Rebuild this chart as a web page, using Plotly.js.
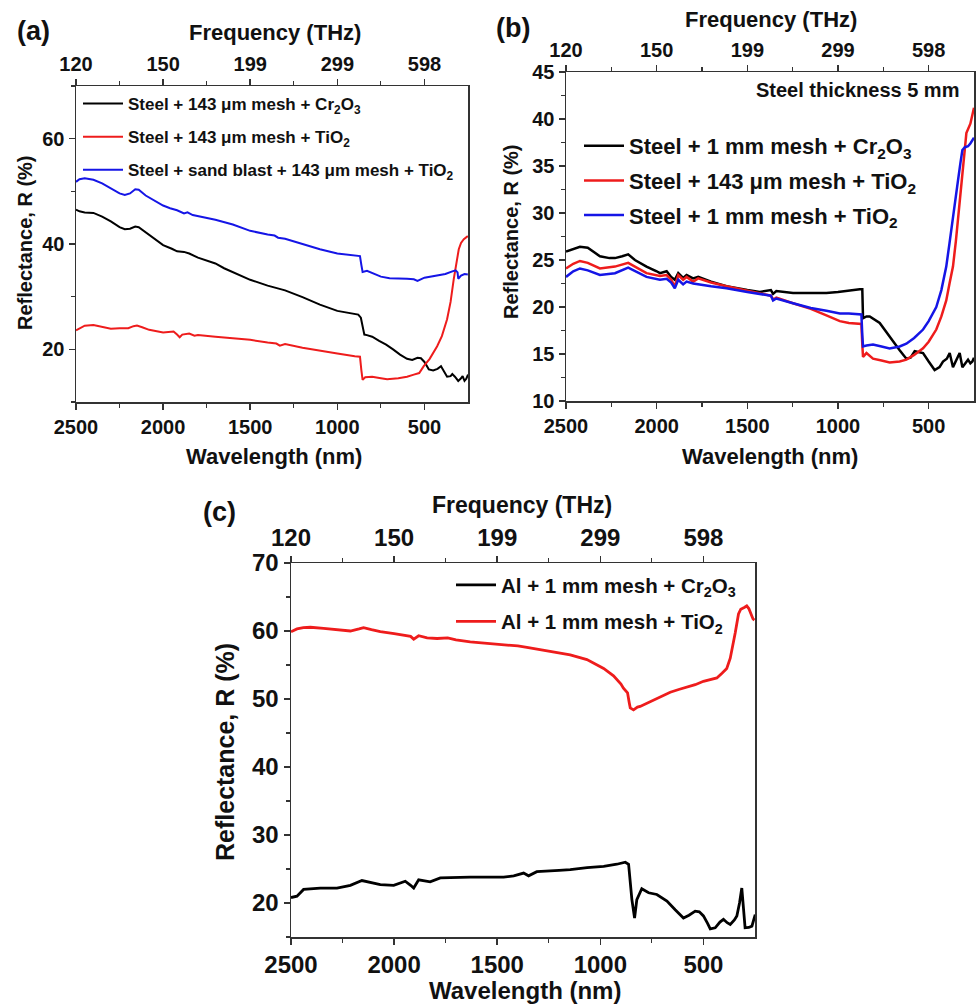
<!DOCTYPE html>
<html>
<head>
<meta charset="utf-8">
<script src="https://cdn.plot.ly/plotly-3.0.1.min.js"></script>
<style>html,body{margin:0;padding:0;background:#fff;}#chart{width:976px;height:1004px;}</style>
</head>
<body>
<div id="chart"></div>
<script>
// ---------- Data ----------
// Top-axis (frequency) tick labels, placed at wavelength positions
const wlTicks = [2500, 2000, 1500, 1000, 500];
const freqLabels = ['120', '150', '199', '299', '598'];

// Panel (a)
const aBlackWl = [2500,2480,2450,2400,2350,2300,2250,2220,2190,2160,2140,2100,2050,2000,1950,1920,1880,1850,1800,1750,1700,1650,1600,1500,1400,1350,1300,1200,1100,1000,930,880,865,855,845,830,800,760,720,680,640,600,570,540,520,500,475,450,425,405,385,370,350,340,325,306,290,281,270,260,250];
const aBlackR  = [46.5,46.2,46.0,45.9,45.2,44.3,43.2,42.8,42.9,43.3,43.2,42.2,41.0,39.8,39.1,38.6,38.5,38.2,37.4,36.9,36.3,35.4,34.7,33.2,32.1,31.7,31.2,29.9,28.5,27.3,26.9,26.6,26.0,24.5,22.8,22.7,22.4,21.6,20.9,20.0,19.0,18.2,18.0,18.4,18.3,17.6,16.2,16.0,16.3,16.8,15.6,14.8,14.9,15.3,14.8,14.0,14.5,14.9,14.0,14.4,15.2];
const aRedWl = [2500,2480,2450,2400,2350,2300,2250,2200,2170,2150,2120,2080,2000,1960,1940,1920,1905,1890,1870,1850,1820,1800,1700,1600,1500,1400,1350,1330,1300,1200,1100,1000,900,870,862,855,840,800,750,714,650,600,561,530,504,470,427,400,370,350,332,315,303,290,274,251];
const aRedR  = [23.6,24.0,24.5,24.6,24.3,23.9,24.0,24.0,24.4,24.5,24.2,23.7,23.2,23.3,23.4,22.8,22.3,22.8,22.9,23.0,22.6,22.7,22.4,22.1,21.8,21.3,21.1,20.7,21.0,20.3,19.7,19.2,18.7,18.6,16.0,14.2,14.7,14.8,14.5,14.3,14.5,14.8,15.2,15.5,16.8,18.2,20.6,22.5,25.7,29.0,33.3,37.0,39.0,40.2,40.9,41.5];
const aBlueWl = [2500,2480,2450,2400,2350,2300,2250,2220,2190,2160,2140,2100,2050,2000,1960,1920,1880,1860,1830,1800,1750,1700,1600,1500,1400,1360,1340,1300,1200,1100,1000,900,870,862,855,830,800,750,700,650,600,561,540,500,450,427,380,340,321,310,306,290,270,251];
const aBlueR  = [51.8,52.3,52.5,52.2,51.5,50.5,49.6,49.3,49.6,50.4,50.3,49.2,48.2,47.3,46.8,46.4,45.8,46.0,45.5,45.3,45.0,44.6,43.7,42.5,41.8,41.6,41.2,41.0,40.0,39.0,38.2,37.8,37.7,36.0,34.7,34.9,34.5,33.8,33.5,33.5,33.4,33.3,33.0,33.6,33.9,34.0,34.3,34.8,35.0,34.6,33.4,34.0,34.3,34.2];

// Panel (b)
const bBlackWl = [2500,2470,2423,2380,2313,2260,2230,2190,2157,2120,2056,2000,1982,1945,1920,1900,1881,1854,1835,1799,1771,1700,1615,1500,1431,1370,1358,1340,1248,1150,1064,1000,930,880,866,862,843,825,770,715,660,623,600,577,531,500,467,440,421,400,384,366,345,329,314,300,283,270,259,250];
const bBlackR  = [25.9,26.1,26.4,26.3,25.4,25.2,25.2,25.4,25.6,25.0,24.3,23.8,23.6,23.8,23.2,22.9,23.6,23.1,23.4,23.05,23.2,22.7,22.2,21.8,21.6,21.8,21.4,21.7,21.5,21.5,21.5,21.6,21.8,21.9,21.9,18.8,19.0,19.0,18.3,16.8,15.4,14.5,14.6,15.3,15.1,14.2,13.3,13.6,14.2,14.5,15.1,13.6,14.4,15.1,13.6,14.0,14.4,14.0,14.2,14.6];
const bRedWl = [2500,2460,2423,2380,2313,2260,2230,2157,2100,2056,1982,1945,1920,1900,1881,1854,1835,1799,1771,1700,1615,1500,1431,1370,1358,1340,1248,1150,1064,990,940,871,866,862,843,807,760,715,660,623,580,531,500,458,430,403,385,366,350,338,325,314,300,292,270,256,250];
const bRedR  = [24.1,24.6,24.9,24.7,24.1,24.2,24.3,24.7,24.1,23.6,23.3,23.4,22.9,22.2,23.4,22.9,23.2,22.7,23.05,22.6,22.2,21.7,21.4,21.2,20.8,21.0,20.4,19.8,19.1,18.5,18.3,18.2,16.0,14.7,15.1,14.5,14.3,14.1,14.2,14.4,14.9,15.6,16.3,17.6,19.0,20.7,22.5,24.3,27.0,29.3,32.0,34.2,37.0,38.5,39.5,40.8,41.2];
const bBlueWl = [2500,2460,2423,2380,2313,2260,2230,2157,2100,2056,1982,1945,1920,1900,1881,1854,1835,1799,1700,1615,1500,1431,1370,1358,1340,1248,1150,1064,990,940,871,866,862,843,807,760,715,660,623,580,531,500,458,430,403,385,366,350,338,325,314,300,283,270,256,250];
const bBlueR  = [23.2,23.8,24.1,23.9,23.4,23.5,23.6,24.2,23.6,23.2,22.9,23.0,22.6,22.0,22.9,22.4,22.7,22.5,22.2,22.0,21.6,21.4,21.2,20.7,20.9,20.4,19.9,19.6,19.3,19.3,19.2,17.0,15.8,15.9,16.0,15.8,15.6,15.8,16.1,16.7,17.6,18.5,20.0,21.8,24.3,26.8,29.3,31.5,33.5,35.3,36.7,37.0,37.1,37.4,37.9,38.0];

// Panel (c)
const cBlackWl = [2500,2471,2439,2400,2358,2277,2212,2156,2110,2067,2002,1970,1946,1920,1905,1881,1850,1825,1776,1700,1631,1550,1469,1420,1372,1348,1308,1200,1146,1064,984,920,879,863,847,834,823,799,766,726,677,637,597,570,540,520,500,480,467,443,420,403,385,370,350,338,325,314,306,298,280,265,249];
const cBlackR  = [20.8,21.0,22.0,22.1,22.2,22.2,22.6,23.3,23.0,22.7,22.6,22.9,23.2,22.6,22.2,23.4,23.2,23.1,23.7,23.8,23.8,23.8,23.8,24.0,24.4,24.0,24.6,24.8,24.9,25.2,25.4,25.7,26.0,25.7,20.5,17.8,20.5,22.1,21.5,21.25,20.3,19.0,17.8,18.2,18.8,18.7,18.1,17.0,16.2,16.35,17.2,17.6,17.1,16.85,17.5,18.1,20.0,22.2,19.0,16.35,16.4,16.6,18.3];
const cRedWl = [2500,2471,2440,2406,2342,2280,2212,2170,2148,2110,2067,2000,1954,1920,1905,1881,1840,1792,1740,1700,1631,1550,1469,1400,1356,1300,1227,1146,1065,1020,984,936,900,888,868,860,855,839,820,807,780,742,700,661,620,581,540,500,470,435,410,387,370,355,346,330,319,300,290,280,269,260,253];
const cRedR  = [59.9,60.3,60.5,60.55,60.4,60.2,60.0,60.3,60.5,60.2,59.9,59.6,59.4,59.2,58.8,59.3,59.0,58.9,59.0,58.7,58.4,58.2,58.0,57.8,57.6,57.3,57.0,56.5,55.8,55.1,54.5,53.4,52.2,51.6,50.9,49.5,48.7,48.4,48.8,48.9,49.3,49.9,50.5,51.0,51.4,51.7,52.1,52.6,52.8,53.1,53.8,54.5,56.0,58.2,59.7,62.5,63.2,63.5,63.7,63.3,62.4,61.8,61.6];

const names = {
  a: ['Steel + 143 μm mesh + Cr<sub>2</sub>O<sub>3</sub>', 'Steel + 143 μm mesh + TiO<sub>2</sub>', 'Steel + sand blast + 143 μm mesh + TiO<sub>2</sub>'],
  b: ['Steel + 1 mm mesh + Cr<sub>2</sub>O<sub>3</sub>', 'Steel + 143 μm mesh + TiO<sub>2</sub>', 'Steel + 1 mm mesh + TiO<sub>2</sub>'],
  c: ['Al + 1 mm mesh + Cr<sub>2</sub>O<sub>3</sub>', 'Al + 1 mm mesh + TiO<sub>2</sub>']
};

// ---------- Styling ----------
const BLACK = '#000000', RED = '#ee1c1c', BLUE = '#1515e6';
const FONT = 'Liberation Sans, Arial, sans-serif';
const W = 976, H = 1004;
const px = v => v / W;
const py = v => 1 - v / H;

function tr(x, y, name, color, xa, ya, leg, grp, lw) {
  return {x: x, y: y, name: name, type: 'scatter', mode: 'lines',
    line: {color: color, width: lw}, xaxis: xa, yaxis: ya, legend: leg, legendgroup: grp};
}
const traces = [
  tr(aBlackWl, aBlackR, names.a[0], BLACK, 'x', 'y', 'legend', 'a1', 2),
  tr(aRedWl, aRedR, names.a[1], RED, 'x', 'y', 'legend', 'a2', 2),
  tr(aBlueWl, aBlueR, names.a[2], BLUE, 'x', 'y', 'legend', 'a3', 2),
  tr(bBlackWl, bBlackR, names.b[0], BLACK, 'x3', 'y2', 'legend2', 'b1', 2.5),
  tr(bRedWl, bRedR, names.b[1], RED, 'x3', 'y2', 'legend2', 'b2', 2.5),
  tr(bBlueWl, bBlueR, names.b[2], BLUE, 'x3', 'y2', 'legend2', 'b3', 2.5),
  tr(cBlackWl, cBlackR, names.c[0], BLACK, 'x5', 'y3', 'legend3', 'c1', 2.8),
  tr(cRedWl, cRedR, names.c[1], RED, 'x5', 'y3', 'legend3', 'c2', 2.8),
  {x: [], y: [], xaxis: 'x2', yaxis: 'y', showlegend: false, hoverinfo: 'skip'},
  {x: [], y: [], xaxis: 'x4', yaxis: 'y2', showlegend: false, hoverinfo: 'skip'},
  {x: [], y: [], xaxis: 'x6', yaxis: 'y3', showlegend: false, hoverinfo: 'skip'}
];

const LINEC = '#333333';
function xBottom(dom, anchor, fs) {
  return {domain: dom, anchor: anchor, range: [2500, 250], showgrid: false, zeroline: false,
    showline: true, linecolor: LINEC, linewidth: 1.5, ticks: 'outside', ticklen: 6, tickwidth: 1.5, tickcolor: LINEC,
    tickmode: 'array', tickvals: wlTicks, ticktext: wlTicks.map(String),
    minor: {tickvals: [2250, 1750, 1250, 750], ticks: 'outside', ticklen: 4, tickwidth: 1.2, tickcolor: LINEC, showgrid: false},
    tickfont: {family: FONT, size: fs, color: '#111', weight: 'bold'}};
}
function xTop(overlay, anchor, fs) {
  return {overlaying: overlay, anchor: anchor, side: 'top', range: [2500, 250], showgrid: false, zeroline: false,
    showline: true, linecolor: LINEC, linewidth: 1.5, ticks: 'outside', ticklen: 6, tickwidth: 1.5, tickcolor: LINEC,
    tickmode: 'array', tickvals: wlTicks, ticktext: freqLabels,
    minor: {tickvals: [2250, 1750, 1250, 750], ticks: 'outside', ticklen: 4, tickwidth: 1.2, tickcolor: LINEC, showgrid: false},
    tickfont: {family: FONT, size: fs, color: '#111', weight: 'bold'}};
}
function yAx(dom, anchor, range, dtick, fs) {
  return {domain: dom, anchor: anchor, range: range, showgrid: false, zeroline: false,
    showline: true, mirror: true, linecolor: LINEC, linewidth: 1.5, ticks: 'outside', ticklen: 6, tickwidth: 1.5, tickcolor: LINEC,
    tickmode: 'linear', tick0: 0, dtick: dtick,
    minor: {dtick: dtick / 2, tick0: 0, ticks: 'outside', ticklen: 4, tickwidth: 1.2, tickcolor: LINEC, showgrid: false},
    tickfont: {family: FONT, size: fs, color: '#111', weight: 'bold'}};
}

const domAx = [px(76), px(468)], domAy = [py(402), py(86)];
const domBx = [px(566), px(974)], domBy = [py(401), py(72)];
const domCx = [px(291), px(755)], domCy = [py(937), py(563)];

function ann(text, x, y, size, opts) {
  return Object.assign({text: text, x: px(x), y: py(y), xref: 'paper', yref: 'paper', showarrow: false,
    xanchor: 'center', yanchor: 'middle', font: {family: FONT, size: size, color: '#111', weight: 'bold'}}, opts || {});
}

const annotations = [
  ann('(a)', 33, 31, 27),
  ann('(b)', 513, 28, 27),
  ann('(c)', 219, 512, 27),
  ann('Frequency (THz)', 275, 33, 22),
  ann('Frequency (THz)', 771, 20, 22),
  ann('Frequency (THz)', 522, 505, 23),
  ann('Wavelength (nm)', 274, 456, 22),
  ann('Wavelength (nm)', 770, 456, 22),
  ann('Wavelength (nm)', 525, 990, 24),
  ann('Reflectance, R (%)', 25, 243, 20, {textangle: -90}),
  ann('Reflectance, R (%)', 511, 232, 20, {textangle: -90}),
  ann('Reflectance, R (%)', 225, 752, 25, {textangle: -90}),
  ann('Steel thickness 5 mm', 961, 90, 20, {xanchor: 'right'})
];

function legendCfg(x, y, fs, gap) {
  return {x: px(x), y: py(y), xref: 'paper', yref: 'paper', xanchor: 'left', yanchor: 'top',
    bgcolor: 'rgba(0,0,0,0)', borderwidth: 0, traceorder: 'grouped', tracegroupgap: gap,
    itemwidth: 40, font: {family: FONT, size: fs, color: '#111', weight: 'bold'}};
}

const layout = {
  width: W, height: H, margin: {l: 0, r: 0, t: 0, b: 0},
  paper_bgcolor: '#ffffff', plot_bgcolor: '#ffffff',
  font: {family: FONT, color: '#111'},
  xaxis: xBottom(domAx, 'y', 20), xaxis2: xTop('x', 'y', 20), yaxis: yAx(domAy, 'x', [10, 70], 20, 20),
  xaxis3: xBottom(domBx, 'y2', 20), xaxis4: xTop('x3', 'y2', 20), yaxis2: yAx(domBy, 'x3', [10, 45], 5, 20),
  xaxis5: xBottom(domCx, 'y3', 24), xaxis6: xTop('x5', 'y3', 24), yaxis3: yAx(domCy, 'x5', [15, 70], 10, 24),
  legend: legendCfg(78, 86, 17, 8),
  legend2: legendCfg(579, 125, 22, 3),
  legend3: legendCfg(451, 565, 20.5, 7),
  annotations: annotations,
  showlegend: true
};

Plotly.newPlot('chart', traces, layout, {staticPlot: true, displayModeBar: false});
</script>
</body>
</html>
